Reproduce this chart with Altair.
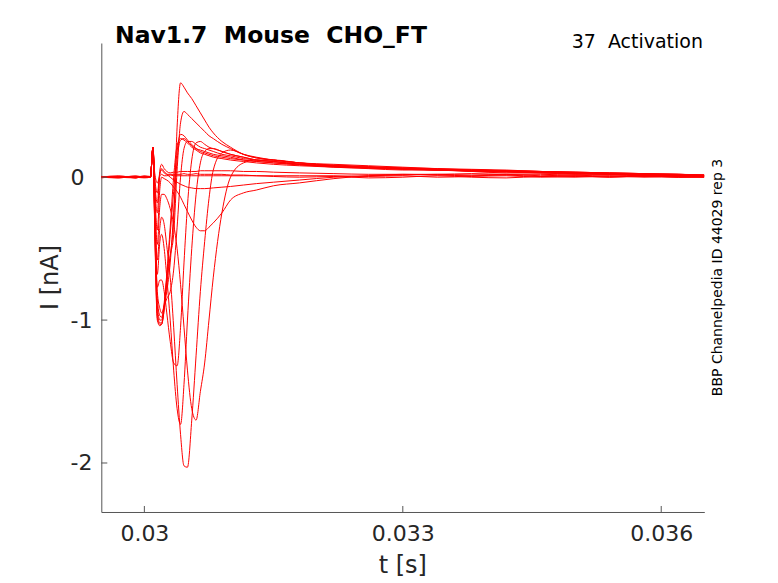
import altair as alt
import pandas as pd

# ---------------- data ----------------
TIMES = [0.02950, 0.02970, 0.02990, 0.03000, 0.03007, 0.03010, 0.03012, 0.03015,
         0.03018, 0.03020, 0.03023, 0.03026, 0.03030, 0.03034, 0.03038, 0.03042,
         0.03046, 0.03050, 0.03055, 0.03060, 0.03065, 0.03070, 0.03075, 0.03080,
         0.03090, 0.03100, 0.03115, 0.03130, 0.03150, 0.03180, 0.03220, 0.03260,
         0.03300, 0.03340, 0.03380, 0.03420, 0.03460, 0.03500, 0.03540, 0.03580,
         0.03620, 0.03650]

TR_M80 = [0.005, -0.005, 0.01, 0.0, 0.0, 0.19, 0.03, -0.04, 0.01, 0.02, 0.01, 0.01,
          0.015, 0.01, 0.01, 0.01, 0.01, 0.01, 0.01, 0.01, 0.01, 0.01, 0.01, 0.01,
          0.01, 0.01, 0.01, 0.01, 0.005, 0.0, 0.005, -0.005, 0.0, 0.01, 0.0, -0.005,
          0.005, 0.0, 0.01, 0.0, 0.005, 0.0]
TR_M70 = [0.0, 0.01, -0.005, 0.005, 0.0, 0.20, 0.0, -0.11, 0.03, 0.05, 0.03, 0.02,
          0.02, 0.02, 0.02, 0.02, 0.025, 0.02, 0.02, 0.025, 0.02, 0.02, 0.02, 0.02,
          0.02, 0.015, 0.015, 0.01, 0.01, 0.01, 0.01, 0.005, 0.01, 0.0, 0.005, 0.01,
          0.0, 0.005, 0.0, 0.01, 0.0, 0.005]
TR_M60 = [-0.005, 0.005, 0.0, 0.01, 0.005, 0.21, -0.03, -0.18, 0.05, 0.09, 0.06, 0.04,
          0.03, 0.035, 0.035, 0.04, 0.04, 0.04, 0.04, 0.04, 0.045, 0.045, 0.045, 0.045,
          0.045, 0.045, 0.04, 0.04, 0.035, 0.03, 0.025, 0.02, 0.02, 0.015, 0.01, 0.015,
          0.005, 0.01, 0.0, 0.005, 0.0, 0.0]
TR_M50 = [0.0, -0.005, 0.005, 0.0, 0.0, 0.21, -0.06, -0.25, 0.02, 0.06, 0.04, 0.02,
          0.0, -0.02, -0.035, -0.05, -0.06, -0.07, -0.075, -0.08, -0.08, -0.08, -0.078, -0.075,
          -0.07, -0.065, -0.055, -0.045, -0.035, -0.02, 0.0, 0.01, 0.015, 0.02, 0.015, 0.02,
          0.01, 0.015, 0.005, 0.01, 0.0, 0.005]
TR_M40 = [0.005, 0.0, -0.005, 0.005, 0.0, 0.20, -0.10, -0.37, -0.08, 0.0, -0.01, -0.02,
          -0.04, -0.07, -0.10, -0.14, -0.19, -0.24, -0.30, -0.35, -0.375, -0.375, -0.35, -0.32,
          -0.25, -0.16, -0.11, -0.09, -0.06, -0.04, -0.01, 0.01, 0.02, 0.02, 0.025, 0.02,
          0.02, 0.015, 0.015, 0.01, 0.005, 0.0]
TR_M30 = [0.0, 0.005, 0.0, -0.005, 0.0, 0.21, -0.13, -0.47, -0.20, -0.12, -0.12, -0.15,
          -0.22, -0.33, -0.50, -0.75, -1.05, -1.35, -1.62, -1.70, -1.50, -1.30, -1.00, -0.70,
          -0.25, 0.0, 0.10, 0.12, 0.12, 0.10, 0.08, 0.065, 0.055, 0.05, 0.045, 0.04,
          0.035, 0.03, 0.02, 0.02, 0.015, 0.01]
TR_M20 = [0.005, 0.0, 0.005, 0.0, 0.0, 0.21, -0.16, -0.58, -0.35, -0.28, -0.33, -0.48,
          -0.70, -1.05, -1.45, -1.80, -2.02, -2.03, -1.70, -1.25, -0.80, -0.45, -0.15, 0.05,
          0.17, 0.19, 0.16, 0.14, 0.12, 0.10, 0.08, 0.07, 0.06, 0.05, 0.045, 0.04,
          0.03, 0.03, 0.02, 0.015, 0.01, 0.01]
TR_M10 = [0.0, 0.005, -0.005, 0.005, 0.0, 0.21, -0.2, -0.68, -0.45, -0.40, -0.50, -0.70,
          -1.00, -1.35, -1.62, -1.73, -1.45, -1.00, -0.50, -0.12, 0.10, 0.18, 0.20, 0.20,
          0.18, 0.16, 0.14, 0.12, 0.11, 0.09, 0.07, 0.06, 0.05, 0.05, 0.04, 0.03,
          0.03, 0.02, 0.02, 0.01, 0.01, 0.005]
TR_0 = [0.005, 0.0, 0.0, 0.005, 0.0, 0.21, -0.24, -0.77, -0.72, -0.72, -0.80, -0.95,
        -1.15, -1.30, -1.32, -1.05, -0.60, -0.20, 0.12, 0.24, 0.25, 0.23, 0.21, 0.20,
        0.18, 0.16, 0.14, 0.12, 0.11, 0.09, 0.075, 0.065, 0.055, 0.05, 0.04, 0.035,
        0.03, 0.025, 0.02, 0.015, 0.01, 0.01]
TR_P10 = [0.0, 0.005, 0.005, 0.0, 0.0, 0.21, -0.25, -0.80, -0.92, -0.95, -0.90, -0.85,
          -0.80, -0.65, -0.35, 0.0, 0.20, 0.25, 0.25, 0.23, 0.21, 0.20, 0.19, 0.18,
          0.16, 0.15, 0.13, 0.12, 0.11, 0.09, 0.08, 0.07, 0.06, 0.055, 0.05, 0.045,
          0.04, 0.03, 0.025, 0.02, 0.015, 0.01]
TR_P20 = [0.005, 0.0, 0.0, 0.005, 0.0, 0.21, -0.28, -0.85, -0.97, -0.98, -0.90, -0.80,
          -0.60, -0.25, 0.12, 0.26, 0.27, 0.25, 0.22, 0.20, 0.19, 0.18, 0.17, 0.16,
          0.15, 0.14, 0.12, 0.11, 0.10, 0.085, 0.075, 0.065, 0.06, 0.05, 0.045, 0.04,
          0.035, 0.03, 0.025, 0.02, 0.02, 0.015]
TR_P30 = [0.0, 0.0, 0.005, 0.0, 0.0, 0.21, -0.30, -0.90, -1.00, -1.00, -0.88, -0.68,
          -0.35, 0.0, 0.22, 0.27, 0.26, 0.24, 0.21, 0.19, 0.17, 0.16, 0.15, 0.14,
          0.13, 0.12, 0.11, 0.10, 0.09, 0.08, 0.07, 0.065, 0.06, 0.05, 0.045, 0.04,
          0.035, 0.03, 0.025, 0.02, 0.015, 0.01]
TR_P40 = [0.005, 0.005, 0.0, 0.0, 0.0, 0.21, -0.32, -0.95, -1.02, -1.02, -0.90, -0.70,
          -0.40, -0.10, 0.18, 0.30, 0.29, 0.26, 0.23, 0.20, 0.18, 0.17, 0.16, 0.15,
          0.14, 0.13, 0.12, 0.11, 0.10, 0.09, 0.08, 0.07, 0.065, 0.055, 0.05, 0.045,
          0.04, 0.035, 0.03, 0.025, 0.02, 0.015]
TR_P50 = [0.0, 0.005, 0.0, 0.005, 0.0, 0.21, -0.33, -0.98, -1.03, -1.03, -0.92, -0.72,
          -0.55, -0.40, 0.05, 0.38, 0.46, 0.44, 0.41, 0.38, 0.35, 0.32, 0.29, 0.27,
          0.23, 0.20, 0.16, 0.135, 0.12, 0.10, 0.085, 0.075, 0.065, 0.06, 0.05, 0.045,
          0.04, 0.035, 0.03, 0.025, 0.02, 0.015]
TR_P60 = [0.005, 0.0, 0.005, 0.0, 0.0, 0.21, -0.35, -1.00, -1.04, -1.03, -0.93, -0.75,
          -0.55, -0.30, 0.35, 0.66, 0.63, 0.59, 0.55, 0.50, 0.45, 0.40, 0.35, 0.31,
          0.25, 0.21, 0.16, 0.135, 0.12, 0.10, 0.09, 0.08, 0.07, 0.06, 0.055, 0.05,
          0.04, 0.035, 0.03, 0.025, 0.02, 0.015]

TRACE_NAMES = ["-80", "-70", "-60", "-50", "-40", "-30", "-20", "-10", "0",
               "10", "20", "30", "40", "50", "60"]
TRACE_VALUES = [TR_M80, TR_M70, TR_M60, TR_M50, TR_M40, TR_M30, TR_M20, TR_M10, TR_0,
                TR_P10, TR_P20, TR_P30, TR_P40, TR_P50, TR_P60]

XTICKS = [0.030, 0.033, 0.036]
YTICKS = [0, -1, -2]
X_DOMAIN = [0.0295, 0.0365]
Y_DOMAIN = [-2.343, 0.939]

TITLE = "Nav1.7\u00a0\u00a0Mouse\u00a0\u00a0CHO_FT"
SUBTITLE = "37\u00a0\u00a0Activation"
SIDE_TEXT = "BBP Channelpedia ID 44029 rep 3"
X_LABEL = "t [s]"
Y_LABEL = "I [nA]"

# ---------------- build table ----------------
rows = []
for name, vals in zip(TRACE_NAMES, TRACE_VALUES):
    for t, v in zip(TIMES, vals):
        rows.append({"trace": name, "t": t, "I": v})
df = pd.DataFrame(rows)

W, H = 603, 469
FONT = "DejaVu Sans"
AX_COLOR = "#262626"

xscale = alt.Scale(domain=X_DOMAIN, nice=False, zero=False)
yscale = alt.Scale(domain=Y_DOMAIN, nice=False, zero=False)

lines = alt.Chart(df).mark_line(
    color="#ff0000", strokeWidth=1, interpolate="monotone", clip=True
).encode(
    x=alt.X("t:Q", scale=xscale,
            axis=alt.Axis(values=XTICKS, title=None, grid=False, tickSize=0,
                          labelPadding=12, labelFontSize=22, labelFont=FONT,
                          labelColor=AX_COLOR, domainColor="#555555", domainWidth=1,
                          labelExpr="format(datum.value, '.3~f')")),
    y=alt.Y("I:Q", scale=yscale,
            axis=alt.Axis(values=YTICKS, title=None, grid=False, tickSize=0,
                          labelPadding=31.3, labelAlign="left", labelFontSize=22,
                          labelFont=FONT,
                          labelColor=AX_COLOR, domainColor="#555555", domainWidth=1,
                          labelExpr="toString(datum.value)")),
    detail="trace:N",
)

xt = alt.Chart(pd.DataFrame({"t": XTICKS})).mark_rule(color="#555555", strokeWidth=1).encode(
    x=alt.X("t:Q", scale=xscale), y=alt.value(H), y2=alt.value(H - 6)
)
yt = alt.Chart(pd.DataFrame({"I": YTICKS})).mark_rule(color="#555555", strokeWidth=1).encode(
    y=alt.Y("I:Q", scale=yscale), x=alt.value(0), x2=alt.value(6)
)


def label(text, x, y, size, align="center", baseline="alphabetic", angle=0,
          weight="normal", color=AX_COLOR):
    kw = dict(fontSize=size, font=FONT, align=align, baseline=baseline,
              fontWeight=weight, color=color)
    if angle:
        kw["angle"] = angle
    return alt.Chart(pd.DataFrame({"s": [text]})).mark_text(**kw).encode(
        x=alt.value(x), y=alt.value(y), text="s:N")


title = label(TITLE, 13.7, -0.5, 23.5, align="left", weight="bold", color="#000000")
sub = label(SUBTITLE, 601.7, 5, 19, align="right", color="#000000")
side = label(SIDE_TEXT, 620.7, H / 2, 14, angle=270, color="#000000")
xlab = label(X_LABEL, W / 2, 530, 24)
ylab = label(Y_LABEL, -43.3, H / 2, 24, angle=270)

chart = alt.layer(lines, xt, yt, title, sub, side, xlab, ylab).properties(
    width=W, height=H,
    autosize=alt.AutoSizeParams(type="none"),
    padding={"left": 93.3, "top": 35, "right": 60, "bottom": 70},
    background="white",
).configure_view(stroke=None)

chart.save("out.html", embed_options={"renderer": "svg", "actions": False})
